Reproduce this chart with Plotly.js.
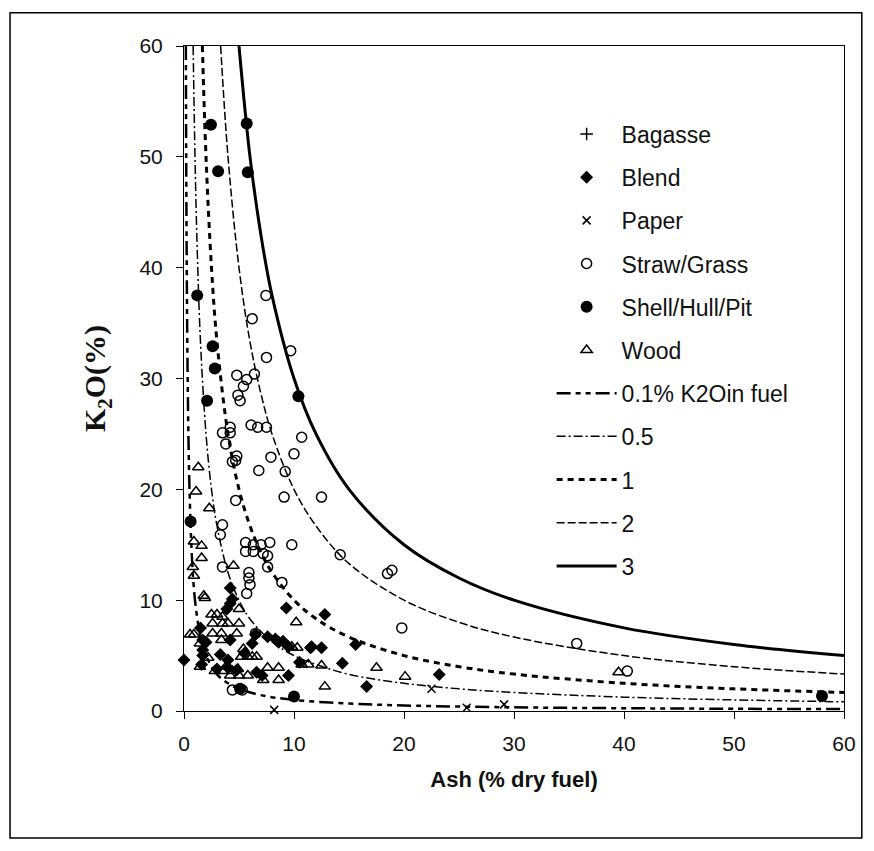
<!DOCTYPE html>
<html>
<head>
<meta charset="utf-8">
<script src="https://cdn.plot.ly/plotly-3.0.1.min.js"></script>
<style>
  html, body { margin: 0; padding: 0; background: #fff; }
  #chart { width: 874px; height: 851px; }
</style>
</head>
<body>
<div id="chart"></div>
<script>
// ---- Scatter data (Ash % dry fuel, K2O % in ash) ----
// No Bagasse point can be distinguished in the picture; the entry is kept for the legend.
const bagasseX = [null];
const bagasseY = [null];

const blendX = [0, 4.2, 4.2, 3.9, 4.4, 9.3, 12.8, 1.5, 6.5, 7.6, 8.3, 6.2, 4.2, 1.7, 1.7, 3.3, 4.0, 1.6, 6.6, 7.1, 9.5, 9.5, 11.5, 10.5, 11.6, 12.5, 15.6, 14.4, 23.2, 16.6, 2.0, 5.5, 8.6, 9.0, 3.0, 4.8, 1.7, 4.0];
const blendY = [4.6, 11.1, 9.7, 9.2, 10.1, 9.3, 8.7, 7.5, 6.9, 6.7, 6.5, 6.1, 6.4, 6.4, 5.5, 5.1, 4.6, 4.2, 3.5, 3.2, 3.2, 5.8, 5.7, 4.4, 5.8, 5.7, 6.0, 4.3, 3.3, 2.2, 6.2, 5.2, 6.2, 6.3, 3.8, 3.7, 5.0, 3.9];

const paperX = [8.2, 22.5, 25.7, 29.1];
const paperY = [0.1, 2.0, 0.3, 0.6];

const strawX = [7.45, 6.2, 7.5, 9.7, 4.8, 6.4, 5.7, 5.4, 4.9, 5.1, 4.2, 3.5, 4.2, 3.8, 6.1, 6.7, 7.5, 10.7, 4.8, 4.4, 4.7, 7.9, 10.0, 6.8, 9.2, 12.5, 9.1, 4.7, 3.5, 3.3, 5.6, 6.3, 7.0, 5.6, 6.3, 7.2, 7.8, 7.6, 9.8, 14.2, 18.5, 18.9, 19.8, 35.7, 40.3, 3.5, 5.9, 5.9, 6.0, 5.7, 7.6, 8.9, 6.5, 4.4, 5.3];
const strawY = [37.5, 35.4, 31.9, 32.5, 30.3, 30.4, 29.9, 29.3, 28.5, 28.0, 25.6, 25.1, 25.1, 24.1, 25.8, 25.6, 25.6, 24.7, 23.0, 22.5, 22.6, 22.9, 23.2, 21.7, 21.6, 19.3, 19.3, 19.0, 16.8, 15.9, 15.2, 15.0, 15.0, 14.4, 14.4, 14.2, 15.2, 14.0, 15.0, 14.1, 12.4, 12.7, 7.5, 6.1, 3.6, 13.0, 12.5, 12.0, 11.4, 10.6, 13.0, 11.6, 7.0, 1.9, 1.9];

const shellX = [2.45, 3.1, 5.7, 5.8, 1.2, 2.6, 2.8, 2.1, 10.4, 0.6, 5.1, 10.0, 58.0];
const shellY = [52.9, 48.7, 53.0, 48.6, 37.5, 32.9, 30.9, 28.0, 28.4, 17.1, 2.0, 1.3, 1.35];

const woodX = [1.3, 1.1, 2.3, 0.9, 1.6, 1.6, 0.8, 0.9, 1.8, 4.5, 1.9, 5.0, 10.2, 2.5, 3.0, 3.5, 2.6, 3.5, 4.0, 5.0, 2.6, 3.4, 4.8, 0.55, 0.9, 3.4, 1.45, 5.4, 5.8, 6.2, 6.6, 5.2, 2.2, 1.45, 2.8, 3.5, 4.4, 4.9, 4.2, 5.0, 5.8, 7.6, 8.6, 7.2, 8.6, 9.8, 10.3, 10.7, 11.3, 12.8, 17.5, 20.1, 39.5, 12.5, 3.9];
const woodY = [22.0, 19.8, 18.3, 15.3, 14.9, 13.8, 13.0, 12.2, 10.4, 13.1, 10.2, 9.2, 8.0, 8.7, 8.7, 8.5, 7.9, 7.9, 7.9, 7.9, 7.0, 7.0, 7.0, 6.9, 6.9, 6.4, 6.1, 5.6, 4.9, 4.9, 4.9, 4.9, 4.8, 4.0, 3.6, 3.6, 3.6, 3.8, 3.2, 3.2, 3.2, 3.9, 3.9, 2.8, 2.8, 5.8, 5.7, 4.2, 4.2, 2.2, 3.9, 3.1, 3.5, 4.1, 4.1];

// ---- Reference curves (K2O % in fuel) ----
const c01X = [0.17, 0.2, 0.25, 0.3, 0.4, 0.5, 0.7, 1, 1.5, 2, 3, 4, 5, 7, 10, 15, 20, 30, 40, 50, 60];
const c01Y = [60, 50, 40, 33.3, 25, 20, 14.3, 10, 6.7, 5, 3.3, 2.5, 2, 1.43, 1, 0.67, 0.5, 0.33, 0.25, 0.2, 0.17];

const c05X = [0.83, 1, 1.2, 1.5, 2, 2.5, 3, 4, 5, 6, 8, 10, 12, 15, 20, 25, 30, 40, 50, 60];
const c05Y = [60, 50, 41.7, 33.3, 25, 20, 16.7, 12.5, 10, 8.3, 6.25, 5, 4.2, 3.3, 2.5, 2, 1.67, 1.25, 1, 0.83];

const c1X = [1.67, 2, 2.5, 3, 4, 5, 6, 7, 8, 10, 12, 15, 20, 25, 30, 40, 50, 60];
const c1Y = [60, 50, 40, 33.3, 25, 20, 16.7, 14.3, 12.5, 10, 8.33, 6.67, 5, 4, 3.33, 2.5, 2, 1.67];

const c2X = [3.33, 4, 5, 6, 7, 8, 10, 12, 15, 20, 25, 30, 40, 50, 60];
const c2Y = [60, 50, 40, 33.3, 28.6, 25, 20, 16.7, 13.3, 10, 8, 6.67, 5, 4, 3.33];

const c3X = [5, 6, 7, 8, 10, 12, 15, 20, 25, 30, 40, 50, 60];
const c3Y = [60, 50, 42.9, 37.5, 30, 25, 20, 15, 12, 10, 7.5, 6, 5];

const seriesNames = ['Bagasse', 'Blend', 'Paper', 'Straw/Grass', 'Shell/Hull/Pit', 'Wood'];
const curveNames = ['0.1% K2Oin fuel', '0.5', '1', '2', '3'];

const K = '#000';

function pts(name, x, y, marker, g) {
  return { type: 'scatter', mode: 'markers', name: name, x: x, y: y, marker: marker,
           cliponaxis: false, legendgroup: g, showlegend: true };
}
function crv(name, x, y, line, g) {
  return { type: 'scatter', mode: 'lines', name: name, x: x, y: y,
           line: Object.assign({ color: K, shape: 'spline', smoothing: 1 }, line), legendgroup: g };
}

const traces = [
  pts(seriesNames[0], bagasseX, bagasseY, { symbol: 'cross-thin', size: 9, line: { color: K, width: 1.5 }, color: K }, 'g0'),
  pts(seriesNames[1], blendX, blendY, { symbol: 'diamond', size: 10, color: K }, 'g1'),
  pts(seriesNames[2], paperX, paperY, { symbol: 'x-thin', size: 8, line: { color: K, width: 1.5 }, color: K }, 'g2'),
  pts(seriesNames[3], strawX, strawY, { symbol: 'circle-open', size: 10, line: { color: K, width: 1.5 }, color: K }, 'g3'),
  pts(seriesNames[4], shellX, shellY, { symbol: 'circle', size: 12, color: K }, 'g4'),
  pts(seriesNames[5], woodX, woodY, { symbol: 'triangle-up-open', size: 10, line: { color: K, width: 1.5 }, color: K }, 'g5'),
  crv(curveNames[0], c01X, c01Y, { width: 2.5, dash: '14px,5px,5px,5px,5px,5px' }, 'g6'),
  crv(curveNames[1], c05X, c05Y, { width: 1.5, dash: '9px,3px,2px,3px' }, 'g7'),
  crv(curveNames[2], c1X, c1Y, { width: 3, dash: '6px,5px' }, 'g8'),
  crv(curveNames[3], c2X, c2Y, { width: 1.5, dash: '8px,3px' }, 'g9'),
  crv(curveNames[4], c3X, c3Y, { width: 3 }, 'g10')
];

const layout = {
  width: 874, height: 851,
  margin: { l: 184, r: 30, t: 46, b: 140 },
  paper_bgcolor: '#fff', plot_bgcolor: '#fff',
  font: { family: 'Liberation Sans, Arial, sans-serif', color: '#111', size: 21 },
  showlegend: true,
  legend: {
    x: 0.557, y: 0.9, xanchor: 'left', yanchor: 'top',
    bgcolor: 'rgba(0,0,0,0)', borderwidth: 0,
    font: { size: 23, color: '#111' },
    tracegroupgap: 10.3, itemwidth: 60, traceorder: 'grouped'
  },
  xaxis: {
    range: [0, 60], dtick: 10, tick0: 0,
    showgrid: false, zeroline: false,
    showline: true, linecolor: K, linewidth: 1, mirror: true,
    ticks: 'outside', ticklen: 7, tickcolor: K, ticklabelstandoff: 7,
    tickfont: { size: 21 },
    title: { text: '<b>Ash (% dry fuel)</b>', font: { size: 22 }, standoff: 17 }
  },
  yaxis: {
    range: [0, 60], dtick: 10, tick0: 0,
    showgrid: false, zeroline: false,
    showline: true, linecolor: K, linewidth: 1, mirror: true,
    ticks: 'outside', ticklen: 7, tickcolor: K, ticklabelstandoff: 9,
    tickfont: { size: 21 },
    title: { text: '<b>K<sub>2</sub>O(%)</b>', font: { family: 'Liberation Serif, Times New Roman, serif', size: 30 }, standoff: 24 }
  },
  shapes: [{
    type: 'rect', xref: 'paper', yref: 'paper',
    x0: -0.2636, x1: 1.027, y0: -0.191, y1: 1.05,
    line: { color: K, width: 1.5 }, fillcolor: 'rgba(0,0,0,0)', layer: 'below'
  }]
};

Plotly.newPlot('chart', traces, layout, { displayModeBar: false, staticPlot: true });
</script>
</body>
</html>
